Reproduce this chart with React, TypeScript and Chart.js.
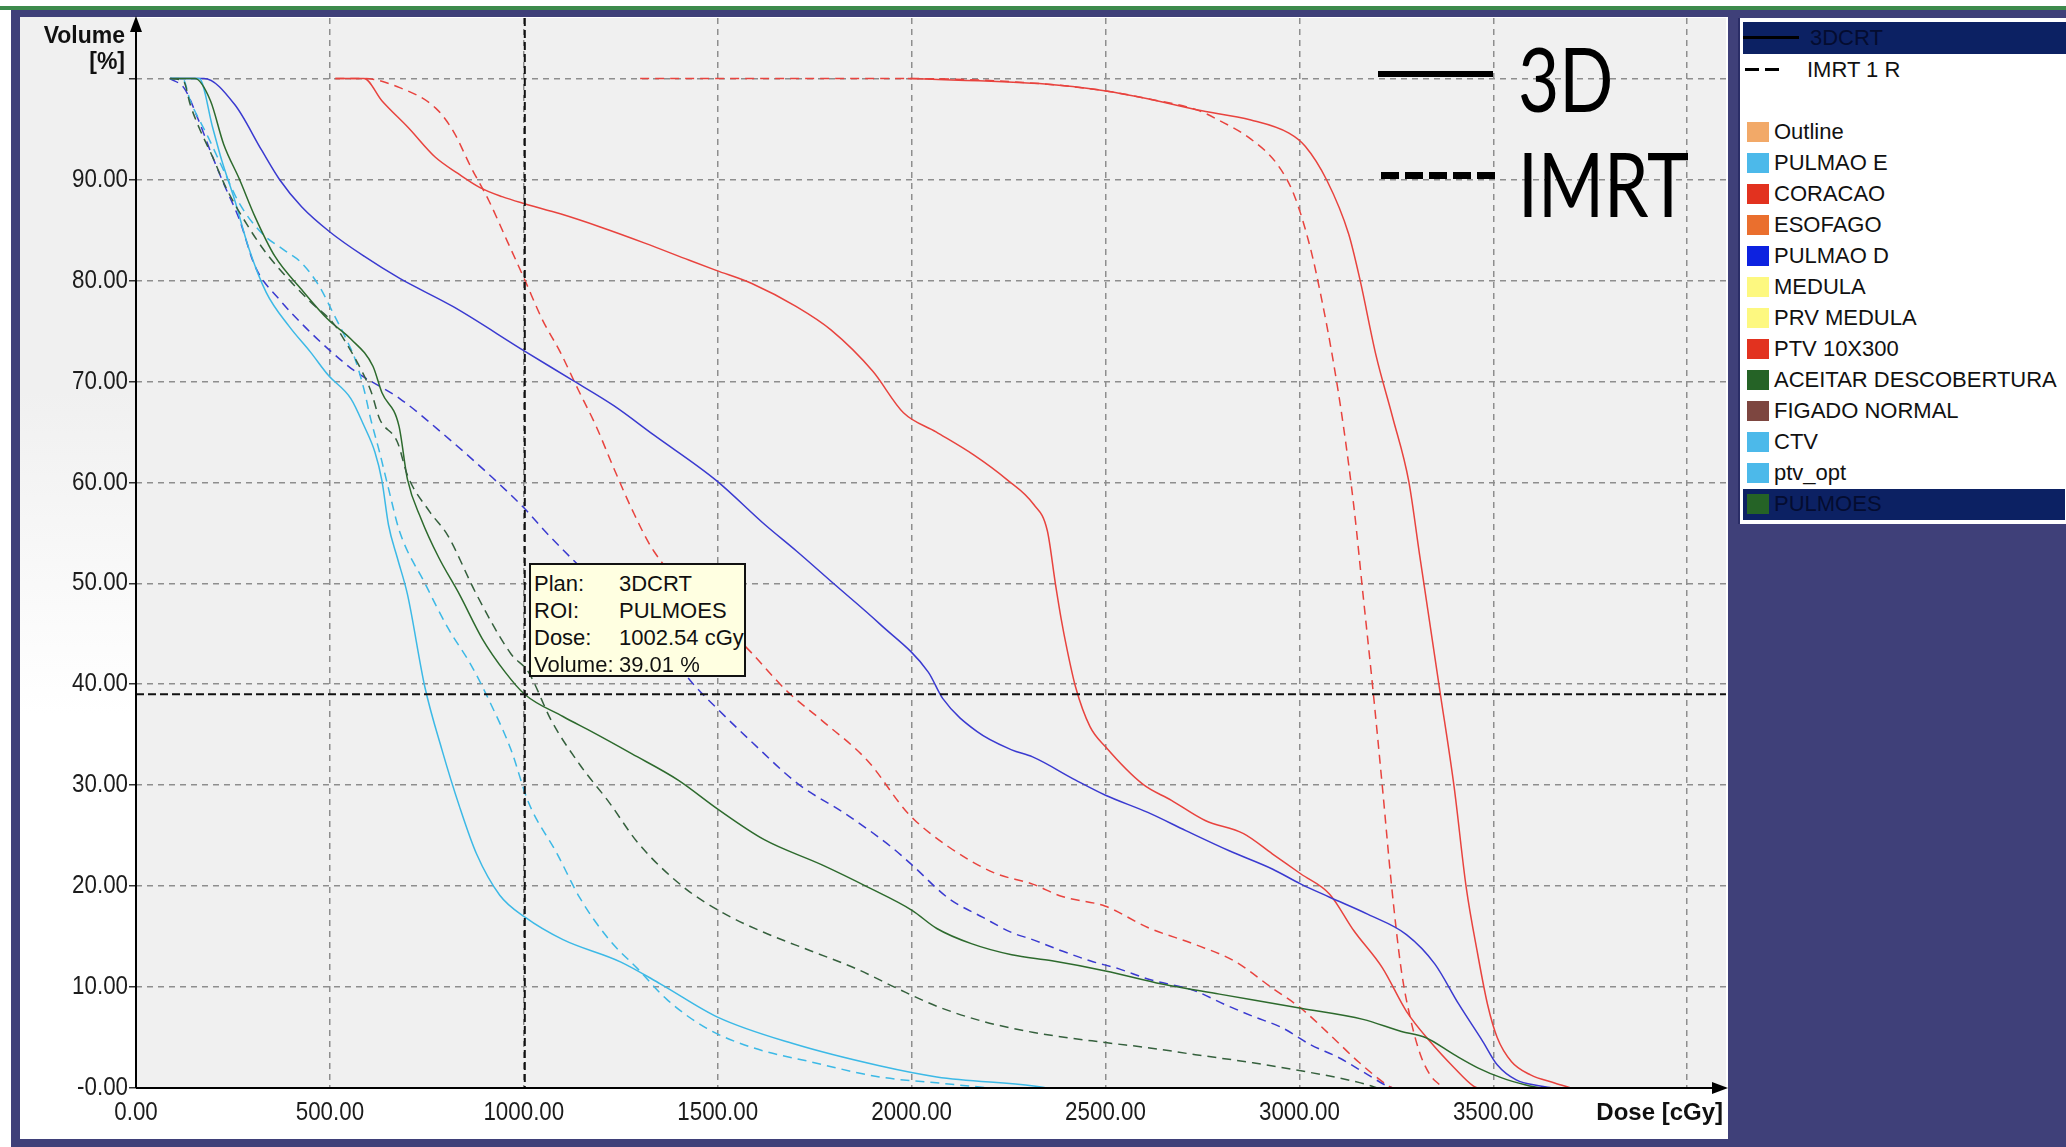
import React, { useEffect, useRef } from "react";
import { Chart, registerables } from "chart.js";

Chart.register(...registerables);

// ---------------- axis ticks ----------------
const doseTicks = [0, 500, 1000, 1500, 2000, 2500, 3000, 3500, 4000];
const doseTickLabels = ["0.00", "500.00", "1000.00", "1500.00", "2000.00", "2500.00", "3000.00", "3500.00", ""];
const volumeTicks = [0, 10, 20, 30, 40, 50, 60, 70, 80, 90, 100];
const volumeTickLabels = ["-0.00", "10.00", "20.00", "30.00", "40.00", "50.00", "60.00", "70.00", "80.00", "90.00", ""];

// ---------------- DVH curves (dose cGy / volume %) ----------------
const pulmaoD3dDose = [88, 175, 255, 324, 370, 427, 500, 588, 680, 818, 1002, 1122, 1232, 1335, 1496, 1622, 1703, 1798, 1917, 2043, 2080, 2169, 2258, 2312, 2423, 2500, 2609, 2707, 2819, 2930, 3004, 3078, 3177, 3276, 3349, 3411, 3473, 3510, 3559, 3621, 3650];
const pulmaoD3dVol = [100, 100, 97.4, 92.9, 90, 87.3, 84.8, 82.4, 80.2, 77.4, 73, 70.2, 67.6, 64.7, 60.2, 55.8, 53.2, 50, 46, 41.2, 38.6, 35.3, 33.5, 32.8, 30.5, 29, 27.3, 25.5, 23.5, 21.7, 20.2, 18.9, 17.2, 15.2, 12.3, 8.3, 4.6, 2.3, 0.8, 0.2, 0];

const pulmaoDImrtDose = [88, 125, 160, 198, 226, 267, 307, 370, 433, 496, 565, 680, 795, 921, 1002, 1056, 1130, 1220, 1323, 1435, 1501, 1590, 1708, 1828, 1947, 2001, 2095, 2184, 2258, 2312, 2386, 2460, 2535, 2609, 2732, 2806, 2880, 2954, 3028, 3102, 3177, 3226, 3240];
const pulmaoDImrtVol = [100, 99, 96, 92.2, 89.6, 86, 81.4, 78.1, 75.5, 73.2, 71, 68.3, 64.7, 60.4, 57.4, 55.1, 52.2, 48.9, 45.6, 40.1, 37.5, 34.2, 30.1, 27.2, 23.9, 22.1, 18.8, 16.9, 15.4, 14.7, 13.6, 12.6, 11.8, 10.8, 9.6, 8.3, 7.1, 6.0, 4.3, 3.0, 1.3, 0.2, 0];

const pulmoes3dDose = [88, 152, 192, 226, 267, 307, 358, 427, 496, 554, 611, 634, 678, 700, 735, 780, 834, 893, 952, 1002, 1101, 1175, 1279, 1398, 1501, 1620, 1769, 1887, 2001, 2065, 2154, 2258, 2362, 2500, 2646, 2794, 3004, 3164, 3263, 3325, 3399, 3460, 3522, 3584, 3620];
const pulmoes3dVol = [100, 100, 97.8, 93.5, 90, 86.3, 82.4, 79.1, 76.1, 74.2, 71.5, 68.9, 65.6, 60.3, 56.4, 52.6, 48.9, 44.5, 41.2, 39.01, 36.8, 35.3, 33.1, 30.5, 27.6, 24.6, 22.1, 19.9, 17.6, 15.8, 14.3, 13.2, 12.6, 11.6, 10.3, 9.3, 7.9, 6.8, 5.6, 5.0, 3.3, 2.0, 1.0, 0.3, 0];

const pulmoesImrtDose = [88, 123, 140, 163, 198, 232, 290, 336, 394, 452, 508, 542, 584, 607, 628, 674, 700, 757, 803, 878, 967, 1012, 1071, 1145, 1220, 1294, 1412, 1516, 1620, 1739, 1858, 1961, 2065, 2184, 2315, 2500, 2609, 2732, 2880, 3004, 3102, 3177, 3200];
const pulmoesImrtVol = [100, 99.7, 97.4, 95.1, 92.2, 89.2, 85.3, 82.7, 80.1, 77.8, 75.8, 73.8, 70.9, 68.9, 66.3, 64, 60.7, 57.1, 54.8, 48.9, 43, 41.2, 36.4, 32, 28.3, 24.3, 19.9, 17.3, 15.4, 13.6, 11.8, 9.9, 8.1, 6.6, 5.5, 4.5, 4.0, 3.3, 2.5, 1.7, 1.0, 0.3, 0];

const pulmaoE3dDose = [88, 163, 198, 221, 255, 290, 336, 394, 450, 496, 554, 588, 616, 634, 651, 674, 700, 745, 789, 834, 878, 938, 1004, 1101, 1249, 1353, 1501, 1694, 1917, 2065, 2315, 2350];
const pulmaoE3dVol = [100, 100, 95.1, 91.9, 87.9, 83.3, 78.8, 75.5, 72.9, 70.6, 68.3, 65.6, 63, 60.2, 55.8, 52.5, 48.9, 39.7, 33.5, 27.9, 23.2, 19.1, 16.9, 14.7, 12.5, 10.3, 7, 4.4, 2.2, 1.1, 0.2, 0];

const pulmaoEImrtDose = [88, 120, 140, 186, 226, 267, 324, 382, 428, 473, 508, 542, 565, 588, 605, 628, 651, 680, 745, 804, 864, 908, 967, 1012, 1086, 1145, 1220, 1294, 1368, 1472, 1590, 1739, 1917, 2095, 2200];
const pulmaoEImrtVol = [100, 100, 97.8, 94.2, 90.9, 87.6, 84.7, 83, 81.7, 79.4, 76.8, 74.2, 72.2, 69.2, 66.3, 63, 59.4, 55.1, 50, 45.6, 41.9, 38.6, 33.5, 28.3, 23.2, 18.8, 14.7, 11.8, 8.8, 5.9, 4.0, 2.6, 1.1, 0.4, 0];

const coracao3dDose = [514, 588, 634, 703, 772, 830, 887, 944, 1002, 1094, 1197, 1312, 1427, 1496, 1588, 1703, 1792, 1900, 1979, 2063, 2161, 2245, 2315, 2350, 2371, 2386, 2399, 2423, 2460, 2500, 2596, 2670, 2757, 2856, 2930, 3004, 3078, 3140, 3214, 3276, 3337, 3399, 3448, 3460];
const coracao3dVol = [100, 100, 97.8, 95.1, 92.2, 90.6, 89.2, 88.3, 87.6, 86.6, 85.3, 83.7, 82, 81, 79.7, 77.4, 75.1, 71, 66.9, 65, 62.7, 60.3, 57.8, 55.2, 49.9, 46.4, 43.8, 39.7, 35.8, 33.8, 30.1, 28.5, 26.5, 25.2, 23.2, 21.2, 19.2, 15.6, 11.9, 7.6, 4.6, 2.0, 0.2, 0];

const coracaoImrtDose = [514, 588, 680, 772, 818, 864, 910, 956, 1002, 1048, 1094, 1140, 1186, 1232, 1278, 1335, 1590, 1679, 1769, 1887, 1991, 2095, 2214, 2312, 2386, 2500, 2609, 2732, 2831, 2930, 3004, 3078, 3152, 3226, 3240];
const coracaoImrtVol = [100, 100, 99.1, 97.1, 94.8, 91.2, 87.9, 84, 80.1, 76.1, 72.9, 69.2, 65.6, 61.4, 57.4, 53.2, 43, 39.3, 36.4, 32.4, 27.2, 23.9, 21.3, 20.2, 19.0, 18, 15.9, 14.2, 12.6, 9.9, 7.9, 5.3, 2.6, 0.3, 0];

const ptv3dDose = [1990, 2329, 2497, 2609, 2735, 2875, 2973, 3015, 3071, 3127, 3156, 3198, 3240, 3282, 3310, 3331, 3362, 3399, 3430, 3460, 3485, 3510, 3547, 3596, 3658, 3700];
const ptv3dVol = [100, 99.5, 98.8, 98, 96.9, 95.9, 94.6, 93.3, 89.9, 84.6, 80.1, 72.5, 66.5, 60.1, 52.8, 47.4, 39.4, 29.8, 19.9, 13.2, 8.3, 5.0, 2.6, 1.3, 0.5, 0];

const ptvImrtDose = [1300, 2000, 2329, 2497, 2609, 2735, 2791, 2875, 2945, 2987, 3029, 3057, 3085, 3113, 3141, 3164, 3189, 3214, 3238, 3263, 3288, 3312, 3337, 3362, 3370];
const ptvImrtVol = [100, 100, 99.5, 98.8, 98, 96.9, 95.9, 94, 91.4, 88.4, 83.1, 78.2, 72.5, 65.7, 57.4, 48.9, 39.7, 29.8, 19.9, 11.6, 6.6, 3.3, 1.3, 0.3, 0];

// ---------------- legend / tooltip content ----------------
const planNames = ["3DCRT", "IMRT 1 R"];
const roiNames = ["Outline", "PULMAO E", "CORACAO", "ESOFAGO", "PULMAO D", "MEDULA", "PRV MEDULA", "PTV 10X300", "ACEITAR DESCOBERTURA", "FIGADO NORMAL", "CTV", "ptv_opt", "PULMOES"];
const roiColors = ["#f2a968", "#4cb9ea", "#e2321f", "#ea6f2e", "#0d22e0", "#fdf880", "#fdf880", "#e2321f", "#256326", "#7d4640", "#4cb9ea", "#4cb9ea", "#256326"];
const cursorDose = 1002.54;
const cursorVolume = 39.01;
const tooltipKeys = ["Plan:", "ROI:", "Dose:", "Volume:"];
const tooltipValues = ["3DCRT", "PULMOES", "1002.54 cGy", "39.01 %"];
const annotationLabels = ["3D", "IMRT"];

const BLUE = "#3a3ad0";
const RED = "#e8433e";
const GREEN = "#2d6a2d";
const GREEN_D = "#35603d";
const CYAN = "#3cb9e6";

const zip = (d: number[], v: number[]) => d.map((x, i) => ({ x, y: v[i] }));

const SANS = "'Liberation Sans', Arial, sans-serif";

const dvhPlugin = {
  id: "dvhDecor",
  beforeDraw(chart: any) {
    const { ctx, chartArea: a } = chart;
    ctx.save();
    ctx.fillStyle = "#f0f0f0";
    ctx.fillRect(a.left, a.top, a.right - a.left, a.bottom - a.top);
    ctx.restore();
  },
  afterDatasetsDraw(chart: any) {
    const { ctx, chartArea: a, scales } = chart;
    const sx = scales.x, sy = scales.y;
    const cx = sx.getPixelForValue(cursorDose);
    const cy = sy.getPixelForValue(cursorVolume);
    ctx.save();
    ctx.strokeStyle = "#111";
    ctx.lineWidth = 2;
    ctx.setLineDash([8, 4]);
    ctx.beginPath();
    ctx.moveTo(cx, a.top);
    ctx.lineTo(cx, a.bottom);
    ctx.stroke();
    ctx.beginPath();
    ctx.moveTo(a.left, cy);
    ctx.lineTo(a.right, cy);
    ctx.stroke();

    ctx.setLineDash([]);
    ctx.strokeStyle = "#000";
    ctx.lineWidth = 2;
    ctx.beginPath();
    ctx.moveTo(a.left, a.bottom);
    ctx.lineTo(a.left, a.top + 8);
    ctx.moveTo(a.left, a.bottom);
    ctx.lineTo(a.right - 8, a.bottom);
    ctx.stroke();
    ctx.fillStyle = "#000";
    ctx.beginPath();
    ctx.moveTo(a.left, a.top - 2);
    ctx.lineTo(a.left - 6, a.top + 14);
    ctx.lineTo(a.left + 6, a.top + 14);
    ctx.closePath();
    ctx.fill();
    ctx.beginPath();
    ctx.moveTo(a.right + 2, a.bottom);
    ctx.lineTo(a.right - 14, a.bottom - 6);
    ctx.lineTo(a.right - 14, a.bottom + 6);
    ctx.closePath();
    ctx.fill();

    // tick labels (condensed), positioned by the chart scales
    ctx.fillStyle = "#1c1c1c";
    ctx.font = `26px ${SANS}`;
    ctx.textBaseline = "middle";
    const squeeze = 0.86;
    sy.ticks.forEach((t: any) => {
      const label = volumeTickLabels[volumeTicks.indexOf(t.value)] ?? "";
      if (!label) return;
      const py = sy.getPixelForValue(t.value);
      ctx.save();
      ctx.translate(a.left - 8, py);
      ctx.scale(squeeze, 1);
      ctx.textAlign = "right";
      ctx.fillText(label, 0, 0);
      ctx.restore();
    });
    sx.ticks.forEach((t: any) => {
      const label = doseTickLabels[doseTicks.indexOf(t.value)] ?? "";
      if (!label) return;
      const px = sx.getPixelForValue(t.value);
      ctx.save();
      ctx.translate(px, a.bottom + 25);
      ctx.scale(squeeze, 1);
      ctx.textAlign = "center";
      ctx.fillText(label, 0, 0);
      ctx.restore();
    });

    ctx.fillStyle = "#111";
    ctx.textAlign = "right";
    ctx.textBaseline = "middle";
    ctx.font = `bold 23px ${SANS}`;
    ctx.fillText("Volume", a.left - 11, 37);
    ctx.fillText("[%]", a.left - 11, 63);
    ctx.font = `bold 24px ${SANS}`;
    ctx.fillText("Dose [cGy]", a.right - 3, a.bottom + 25);
    ctx.restore();
  },
};

export default function App() {
  const ref = useRef<HTMLCanvasElement>(null);
  useEffect(() => {
    document.body.style.margin = "0";
    const solid = (data: any, color: string) => ({
      data, borderColor: color, borderWidth: 1.5, pointRadius: 0,
      cubicInterpolationMode: "monotone", fill: false,
    });
    const dashed = (data: any, color: string) => ({
      ...solid(data, color), borderDash: [9, 6],
    });
    const chart = new Chart(ref.current as HTMLCanvasElement, {
      type: "line",
      data: {
        datasets: [
          dashed(zip(pulmoesImrtDose, pulmoesImrtVol), GREEN_D),
          solid(zip(pulmoes3dDose, pulmoes3dVol), GREEN),
          dashed(zip(pulmaoEImrtDose, pulmaoEImrtVol), CYAN),
          solid(zip(pulmaoE3dDose, pulmaoE3dVol), CYAN),
          dashed(zip(pulmaoDImrtDose, pulmaoDImrtVol), BLUE),
          solid(zip(pulmaoD3dDose, pulmaoD3dVol), BLUE),
          dashed(zip(coracaoImrtDose, coracaoImrtVol), RED),
          solid(zip(coracao3dDose, coracao3dVol), RED),
          dashed(zip(ptvImrtDose, ptvImrtVol), RED),
          solid(zip(ptv3dDose, ptv3dVol), RED),
        ] as any,
      },
      plugins: [dvhPlugin],
      options: {
        animation: false,
        responsive: false,
        devicePixelRatio: 1,
        events: [],
        layout: { padding: { left: 0, right: 340, top: 18, bottom: 0 } },
        plugins: { legend: { display: false }, tooltip: { enabled: false } },
        scales: {
          x: {
            type: "linear",
            min: 0,
            max: 4100,
            afterFit: (s: any) => { s.height = 59; },
            afterBuildTicks: (s: any) => { s.ticks = doseTicks.map((value) => ({ value })); },
            grid: { color: "#8e8e8e", lineWidth: 1.5, drawTicks: false },
            border: { display: false, dash: [6, 5] },
            ticks: { display: false, autoSkip: false },
          },
          y: {
            type: "linear",
            min: 0,
            max: 106,
            afterFit: (s: any) => { s.width = 136; },
            afterBuildTicks: (s: any) => { s.ticks = volumeTicks.map((value) => ({ value })); },
            grid: { color: "#8e8e8e", lineWidth: 1.5, tickLength: 7, tickColor: "#333", tickWidth: 1.5, tickBorderDash: [] },
            border: { display: false, dash: [6, 5] },
            ticks: { display: false, autoSkip: false },
          },
        },
      } as any,
    });
    return () => chart.destroy();
  }, []);

  const abs = (l: number, t: number, w: number, h: number, extra: any = {}) => ({
    position: "absolute" as const, left: l, top: t, width: w, height: h, ...extra,
  });
  const rowTop = 132;
  const rowStep = 31;

  return (
    <div style={abs(0, 0, 2066, 1147, { position: "fixed", background: "#3f4079", overflow: "hidden", fontFamily: SANS })}>
      <div style={abs(0, 0, 2066, 6, { background: "#ffffff" })} />
      <div style={abs(0, 6, 2066, 4, { background: "#3d8a4c" })} />
      <div style={abs(0, 10, 11, 1137, { background: "#ffffff" })} />
      <div style={abs(20, 17, 1708, 1122, { background: "#ffffff" })} />
      <div style={abs(20, 17, 116, 1071, { background: "linear-gradient(#f0f0f0 0%, #f0f0f0 35%, #ffffff 65%)" })} />
      <canvas ref={ref} width={2066} height={1147} style={abs(0, 0, 2066, 1147)} />

      {/* plan annotation */}
      <div style={abs(1378, 71, 115, 6, { background: "#000" })} />
      <div style={abs(1381, 172, 118, 7, { background: "repeating-linear-gradient(to right, #000 0 18px, transparent 18px 24px)" })} />
      {annotationLabels.map((t, i) => (
        <div key={t} style={abs(1518, i === 0 ? 33 : 138, 300, 100, {
          fontFamily: "Lato, 'Open Sans', sans-serif", fontSize: 89, lineHeight: "89px", color: "#000",
          transform: "scaleX(0.8)", transformOrigin: "left top", whiteSpace: "nowrap",
        })}>{t}</div>
      ))}

      {/* tooltip */}
      <div style={abs(529, 563, 213, 110, { background: "#ffffe1", border: "2px solid #111", fontSize: 22, color: "#111" })}>
        {tooltipKeys.map((k, i) => (
          <div key={k} style={abs(3, 5 + i * 27, 210, 27, { lineHeight: "27px", whiteSpace: "nowrap" })}>
            <span style={{ position: "absolute", left: 0 }}>{k}</span>
            <span style={{ position: "absolute", left: 85 }}>{tooltipValues[i]}</span>
          </div>
        ))}
      </div>

      {/* ROI legend */}
      <div style={abs(1738, 18, 328, 506, { background: "#ffffff", borderLeft: "2px solid #2a2d66", boxSizing: "border-box" })}>
        <div style={abs(3, 4, 325, 32, { background: "#0c2163" })}>
          <div style={abs(0, 14, 56, 3, { background: "#000" })} />
          <div style={abs(67, 0, 200, 32, { lineHeight: "32px", fontSize: 22, color: "#040c30" })}>{planNames[0]}</div>
        </div>
        <div style={abs(5, 50, 14, 2.5, { background: "#000" })} />
        <div style={abs(25, 50, 14, 2.5, { background: "#000" })} />
        <div style={abs(67, 37, 250, 30, { lineHeight: "30px", fontSize: 22, color: "#111" })}>{planNames[1]}</div>
        {roiNames.map((n, i) => {
          const cy = rowTop + i * rowStep - 18;
          const last = i === roiNames.length - 1;
          return (
            <React.Fragment key={n}>
              {last && <div style={abs(3, cy - 15, 322, 31, { background: "#0c2163" })} />}
              <div style={abs(7, cy - 10, 22, 20, { background: roiColors[i] })} />
              <div style={abs(34, cy - 15, 300, 30, { lineHeight: "30px", fontSize: 22, color: last ? "#040c30" : "#111", whiteSpace: "nowrap" })}>{n}</div>
            </React.Fragment>
          );
        })}
      </div>
    </div>
  );
}
